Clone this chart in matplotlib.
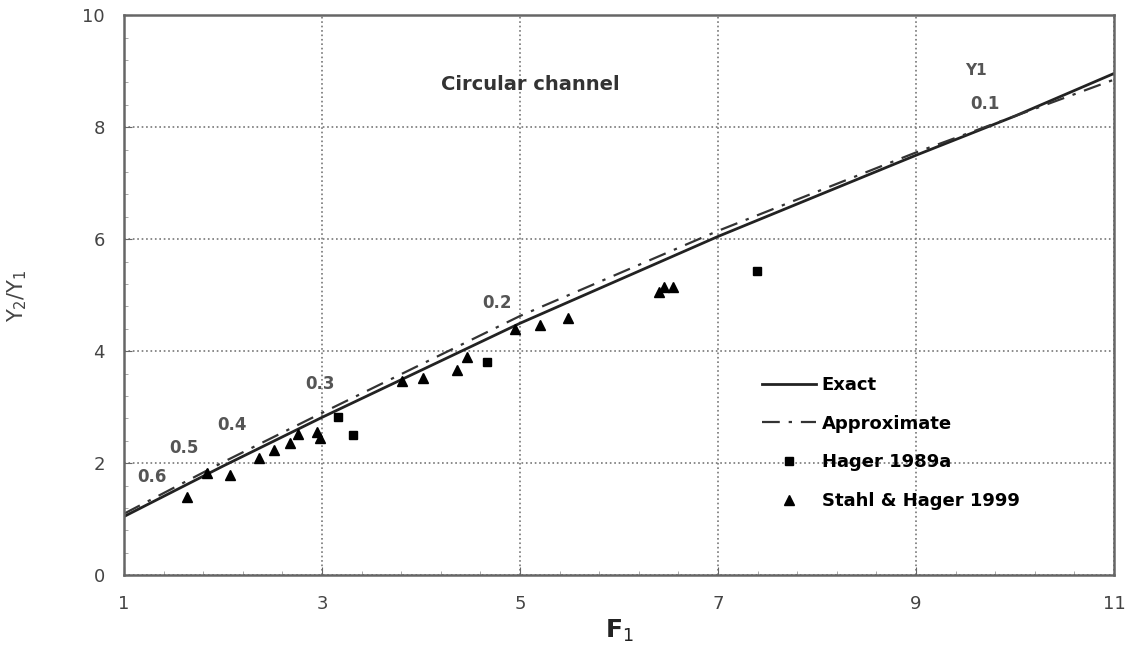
import matplotlib
matplotlib.use('Agg')
import matplotlib.pyplot as plt
import numpy as np

# curves
x_curve = [1, 2, 3, 5, 7, 9, 10, 11]
exact = [1.05, 1.95, 2.82, 4.5, 6.05, 7.5, 8.2, 8.96]
approx = [1.1, 2.02, 2.9, 4.63, 6.15, 7.55, 8.2, 8.85]

# Hager 1989a
hager_x = [3.16, 3.31, 4.67, 7.39]
hager_y = [2.82, 2.5, 3.8, 5.43]

# Stahl & Hager 1999
stahl_x = [1.64, 1.84, 2.07, 2.36, 2.51, 2.68, 2.76, 2.95, 2.98, 3.81, 4.02,
           4.36, 4.46, 4.95, 5.2, 5.48, 6.40, 6.45, 6.55]
stahl_y = [1.39, 1.82, 1.79, 2.1, 2.23, 2.37, 2.53, 2.55, 2.46, 3.47, 3.52,
           3.66, 3.9, 4.4, 4.46, 4.6, 5.05, 5.15, 5.15]

# Y1 labels along the curve
y1_labels = ["0.6", "0.5", "0.4", "0.3", "0.2", "0.1"]
y1_x = [1.28, 1.6, 2.09, 2.98, 4.77, 9.7]
y1_y = [1.75, 2.27, 2.68, 3.41, 4.87, 8.41]

fig = plt.figure(figsize=(11.28, 6.62), dpi=100)
ax = fig.add_axes([0.11, 0.131, 0.8776, 0.846])

ax.plot(x_curve, exact, color='#222222', lw=2, label='Exact')
ax.plot(x_curve, approx, color='#333333', lw=1.6, ls=(0, (8, 4, 1.5, 4)), label='Approximate')
ax.plot(hager_x, hager_y, 's', color='black', ms=6, ls='none', label='Hager 1989a')
ax.plot(stahl_x, stahl_y, '^', color='black', ms=7, ls='none', label='Stahl & Hager 1999')

for lab, lx, ly in zip(y1_labels, y1_x, y1_y):
    ax.text(lx, ly, lab, fontsize=12, color='#555555', ha='center', va='center', fontweight='bold')
ax.text(9.6, 9.02, "Y1", fontsize=11, color='#555555', ha='center', va='center', fontweight='bold')
ax.text(5.1, 8.77, "Circular channel", fontsize=14, color='#333333', ha='center', va='center', fontweight='bold')

ax.set_xlim(1, 11)
ax.set_ylim(0, 10)
ax.set_xticks([1, 3, 5, 7, 9, 11])
ax.set_yticks([0, 2, 4, 6, 8, 10])
ax.set_xticks(np.arange(1, 11.01, 0.4), minor=True)
ax.set_yticks(np.arange(0, 10.01, 0.4), minor=True)
ax.tick_params(which='major', direction='in', length=6, labelsize=13, labelcolor='#444444', pad=14, color='#666666')
ax.tick_params(which='minor', direction='in', length=3, color='#999999')
ax.grid(True, which='major', ls=':', color='#777777', lw=1.2)
for s in ax.spines.values():
    s.set_color('#666666')
    s.set_linewidth(1.8)

ax.set_xlabel("F$_1$", fontsize=18, fontweight='bold', color='#222222')
ax.set_ylabel("Y$_2$/Y$_1$", fontsize=15, color='#444444', labelpad=38)

ax.legend(loc='upper left', bbox_to_anchor=(0.628, 0.385), frameon=False,
          prop={'size': 13, 'weight': 'bold'}, handlelength=3.0, labelspacing=1.15,
          handletextpad=0.3)

plt.savefig("out.png", dpi=100)
